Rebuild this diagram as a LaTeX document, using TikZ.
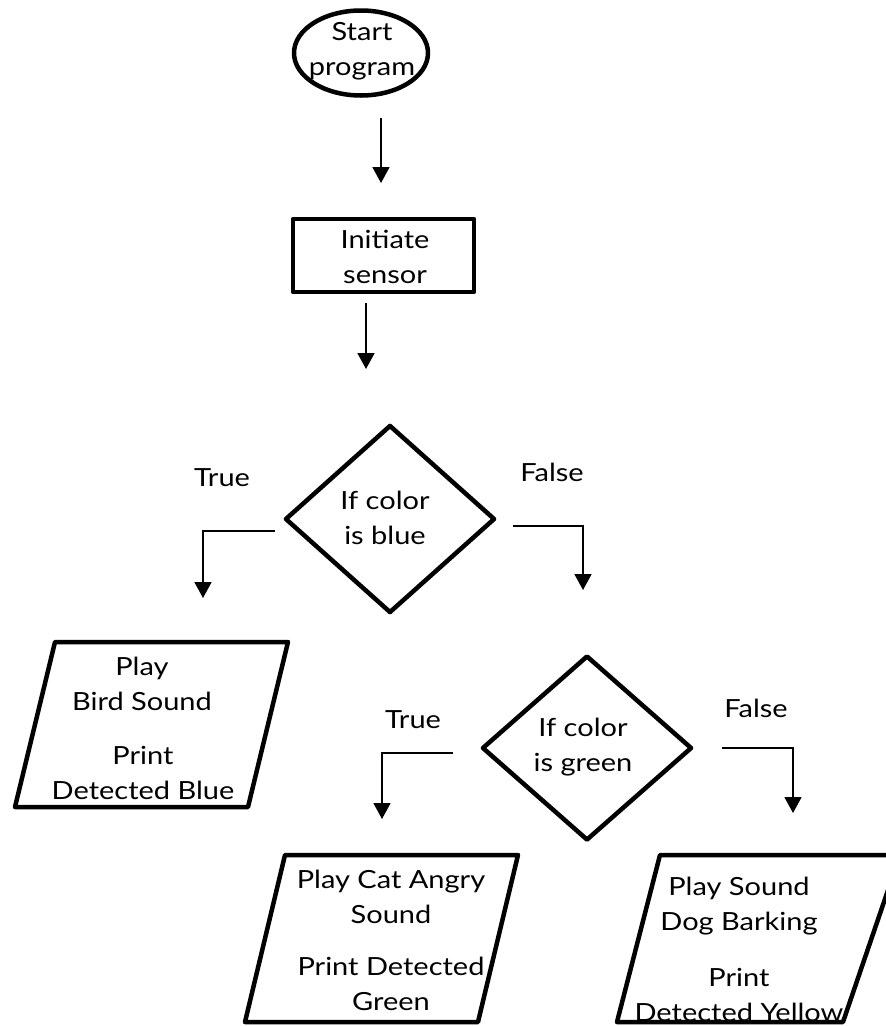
\documentclass[tikz,border=0pt]{standalone}
\usepackage{fontspec}
\setmainfont{Lato}[FakeStretch=1.16]
\usetikzlibrary{arrows.meta,shapes.geometric}
\begin{document}
\begin{tikzpicture}[x=1pt,y=-1pt,
  shapeline/.style={draw=black, line width=4.5pt, line join=round},
  flow/.style={draw=black, line width=1.8pt, -{Triangle[length=16pt,width=17pt]}},
  txt/.style={font=\fontsize{25}{35}\selectfont, align=center, inner sep=0pt},
  decision/.style={diamond, shapeline, txt, minimum width=210pt, minimum height=188pt}]

\clip (0,0) rectangle (886,1026);
\fill[white] (0,0) rectangle (886,1026);

% start and initialisation
\node[ellipse, shapeline, txt, minimum width=134pt, minimum height=85pt] (start) at (361,53) {};
\node[txt] (starttxt) at (362,51) {Start\\program};
\coordinate (a1s) at (381,118);
\coordinate (a1e) at (381,183);
\draw[flow] (a1s) -- (a1e);

\node[rectangle, shapeline, minimum width=181pt, minimum height=73pt] (init) at (383.5,255.5) {};
\node[txt] (inittxt) at (385,257) {Initiate\\sensor};
\coordinate (a2s) at (366,303);
\coordinate (a2e) at (366,369);
\draw[flow] (a2s) -- (a2e);

% first decision
\node[decision] (blue) at (390,519) {};
\node[txt] (bluetxt) at (385,518) {If color\\is blue};
\node[txt] (true1) at (222,478) {True};
\node[txt] (false1) at (552,472) {False};
\coordinate (t1s) at (275,531);
\coordinate (t1e) at (203,598);
\draw[flow] (t1s) -| (t1e);
\coordinate (f1s) at (513,526);
\coordinate (f1e) at (583,590);
\draw[flow] (f1s) -| (f1e);

% blue output
\draw[shapeline] (55,642) -- (288,642) -- (248,807) -- (15,807) -- cycle;
\node[txt] (bluea) at (142,684) {Play\\Bird Sound};
\node[txt] (blueb) at (143,773) {Print\\Detected Blue};

% second decision
\node[decision, minimum height=185pt] (green) at (587,748) {};
\node[txt] (greentxt) at (583,747) {If color\\is green};
\node[txt] (true2) at (413,720) {True};
\node[txt] (false2) at (756,708) {False};
\coordinate (t2s) at (453,753);
\coordinate (t2e) at (382,819);
\draw[flow] (t2s) -| (t2e);
\coordinate (f2s) at (722,748);
\coordinate (f2e) at (793,813);
\draw[flow] (f2s) -| (f2e);

% green output
\draw[shapeline] (285,855) -- (518,855) -- (478,1022) -- (245,1022) -- cycle;
\node[txt] (greena) at (391,897) {Play Cat Angry\\Sound};
\node[txt] (greenb) at (391,984) {Print Detected\\Green};

% yellow output
\draw[shapeline] (660,855) -- (900,855) -- (843,1022) -- (617,1022) -- cycle;
\node[txt] (yellowa) at (739,906) {Play Sound\\Dog Barking};
\node[txt] (yellowb) at (739,995) {Print\\Detected Yellow};
\end{tikzpicture}
\end{document}
